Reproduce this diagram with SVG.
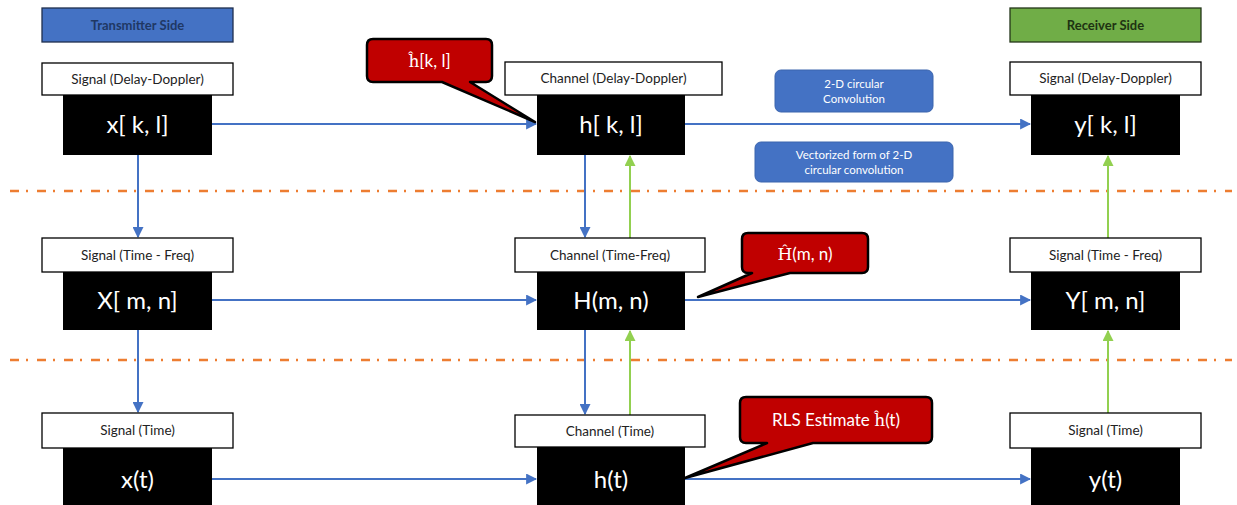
<svg xmlns="http://www.w3.org/2000/svg" width="1237" height="505" viewBox="0 0 1237 505">
<defs>
<style>
.lbl{fill:#fff;stroke:#000;stroke-width:1.3}
.blk{fill:#000}
.lt{font-family:Lato,"Open Sans",sans-serif;font-size:13.5px;fill:#222;text-anchor:middle}
.bt{font-family:Lato,"Open Sans",sans-serif;font-size:24px;fill:#fff;text-anchor:middle}
.hd{font-family:Lato,"Open Sans",sans-serif;font-size:13px;text-anchor:middle;font-weight:bold}
.info{fill:#4472C4;stroke:#3B64AD;stroke-width:1}
.it{font-family:Lato,"Open Sans",sans-serif;font-size:11.5px;fill:#fff;text-anchor:middle}
.call{fill:#C00000;stroke:#000;stroke-width:2.5;stroke-linejoin:round}
.ct{font-family:Lato,"Open Sans",sans-serif;font-size:17px;fill:#fff;text-anchor:middle}
.cm{font-family:"DejaVu Serif","Liberation Serif",serif}
.ab{stroke:#4472C4;stroke-width:2;fill:none;marker-end:url(#mb)}
.ag{stroke:#92D050;stroke-width:2;fill:none;marker-end:url(#mg)}
.dd{stroke:#ED7D31;stroke-width:2.5;stroke-dasharray:9 7 2 9;fill:none}
</style>
<marker id="mb" viewBox="0 0 10 10" refX="9" refY="5" markerWidth="5.5" markerHeight="5.5" orient="auto"><path d="M0,0 L10,5 L0,10 Z" fill="#4472C4"/></marker>
<marker id="mg" viewBox="0 0 10 10" refX="9" refY="5" markerWidth="5.5" markerHeight="5.5" orient="auto"><path d="M0,0 L10,5 L0,10 Z" fill="#92D050"/></marker>
</defs>
<rect width="1237" height="505" fill="#fff"/>

<g id="separators">
<line class="dd" x1="10" y1="191" x2="1232" y2="191"/>
<line class="dd" x1="10" y1="360" x2="1232" y2="360"/>
</g>

<g id="connectors">
<line class="ab" x1="212" y1="124" x2="536" y2="124"/>
<line class="ab" x1="685" y1="124" x2="1030" y2="124"/>
<line class="ab" x1="212" y1="300" x2="536" y2="300"/>
<line class="ab" x1="685" y1="300" x2="1030" y2="300"/>
<line class="ab" x1="212" y1="479" x2="536" y2="479"/>
<line class="ab" x1="685" y1="479" x2="1030" y2="479"/>
<line class="ab" x1="138" y1="155" x2="138" y2="237"/>
<line class="ab" x1="138" y1="330" x2="138" y2="412"/>
<line class="ab" x1="585" y1="155" x2="585" y2="237"/>
<line class="ab" x1="585" y1="330" x2="585" y2="414"/>
<line class="ag" x1="630" y1="238" x2="630" y2="156"/>
<line class="ag" x1="630" y1="415" x2="630" y2="331"/>
<line class="ag" x1="1108" y1="238" x2="1108" y2="156"/>
<line class="ag" x1="1108" y1="413" x2="1108" y2="331"/>
</g>

<g id="transmitter-header">
<rect x="42" y="8" width="191" height="34" fill="#4472C4" stroke="#1F2F4F" stroke-width="1.3"/>
<text class="hd" x="137.5" y="29.5" fill="#1F3864">Transmitter Side</text>
</g>
<g id="receiver-header">
<rect x="1010" y="8" width="191" height="34" fill="#70AD47" stroke="#24361A" stroke-width="1.3"/>
<text class="hd" x="1105.5" y="29.5" fill="#1E3312">Receiver Side</text>
</g>

<g id="x-kl">
<rect class="lbl" x="42" y="63" width="191" height="32"/>
<text class="lt" x="137.5" y="83.5">Signal (Delay-Doppler)</text>
<rect class="blk" x="63" y="95" width="149" height="60"/>
<text class="bt" x="137.5" y="133">x[ k, l]</text>
</g>
<g id="h-kl">
<rect class="lbl" x="505" y="62" width="217" height="33"/>
<text class="lt" x="613.5" y="83">Channel (Delay-Doppler)</text>
<rect class="blk" x="537" y="95" width="148" height="60"/>
<text class="bt" x="611" y="133">h[ k, l]</text>
</g>
<g id="y-kl">
<rect class="lbl" x="1010" y="62" width="191" height="33"/>
<text class="lt" x="1105.5" y="83">Signal (Delay-Doppler)</text>
<rect class="blk" x="1031" y="95" width="149" height="60"/>
<text class="bt" x="1105.5" y="133">y[ k, l]</text>
</g>

<g id="X-mn">
<rect class="lbl" x="42" y="238" width="191" height="34"/>
<text class="lt" x="137.5" y="259.5">Signal (Time - Freq)</text>
<rect class="blk" x="63" y="272" width="149" height="58"/>
<text class="bt" x="137.5" y="309">X[ m, n]</text>
</g>
<g id="H-mn">
<rect class="lbl" x="515" y="238" width="190" height="34"/>
<text class="lt" x="610" y="259.5">Channel (Time-Freq)</text>
<rect class="blk" x="537" y="272" width="148" height="58"/>
<text class="bt" x="611" y="309">H(m, n)</text>
</g>
<g id="Y-mn">
<rect class="lbl" x="1010" y="238" width="191" height="34"/>
<text class="lt" x="1105.5" y="259.5">Signal (Time - Freq)</text>
<rect class="blk" x="1031" y="272" width="149" height="58"/>
<text class="bt" x="1105.5" y="309">Y[ m, n]</text>
</g>

<g id="x-t">
<rect class="lbl" x="42" y="413" width="191" height="35"/>
<text class="lt" x="137.5" y="435">Signal (Time)</text>
<rect class="blk" x="63" y="448" width="149" height="60"/>
<text class="bt" x="137.5" y="488">x(t)</text>
</g>
<g id="h-t">
<rect class="lbl" x="515" y="415" width="190" height="32"/>
<text class="lt" x="610" y="435.5">Channel (Time)</text>
<rect class="blk" x="537" y="447" width="148" height="61"/>
<text class="bt" x="611" y="488">h(t)</text>
</g>
<g id="y-t">
<rect class="lbl" x="1010" y="413" width="191" height="35"/>
<text class="lt" x="1105.5" y="435">Signal (Time)</text>
<rect class="blk" x="1031" y="448" width="149" height="60"/>
<text class="bt" x="1105.5" y="488">y(t)</text>
</g>

<g id="info-conv">
<rect class="info" x="775" y="70" width="158" height="42" rx="6"/>
<text class="it" x="854" y="88">2-D circular</text>
<text class="it" x="854" y="103">Convolution</text>
</g>
<g id="info-vec">
<rect class="info" x="755" y="142" width="198" height="40" rx="6"/>
<text class="it" x="854" y="159">Vectorized form of 2-D</text>
<text class="it" x="854" y="174">circular convolution</text>
</g>

<g id="callout-hkl">
<path class="call" d="M373,39 H486 Q492,39 492,45 V76 Q492,82 486,82 H470 L535,122 L442,82 H373 Q367,82 367,76 V45 Q367,39 373,39 Z"/>
<text class="ct" x="429.5" y="67"><tspan class="cm">ĥ</tspan>[k, l]</text>
</g>
<g id="callout-Hmn">
<path class="call" d="M748,233 H862 Q868,233 868,239 V267 Q868,273 862,273 H790 L698,297 L752,273 H748 Q742,273 742,267 V239 Q742,233 748,233 Z"/>
<text class="ct" x="805" y="260"><tspan class="cm">Ĥ</tspan>(m, n)</text>
</g>
<g id="callout-rls">
<path class="call" d="M746,397 H926 Q932,397 932,403 V437 Q932,443 926,443 H813 L685,478 L767,443 H746 Q740,443 740,437 V403 Q740,397 746,397 Z"/>
<text class="ct" x="836" y="426">RLS Estimate <tspan class="cm">ĥ</tspan>(t)</text>
</g>
</svg>
